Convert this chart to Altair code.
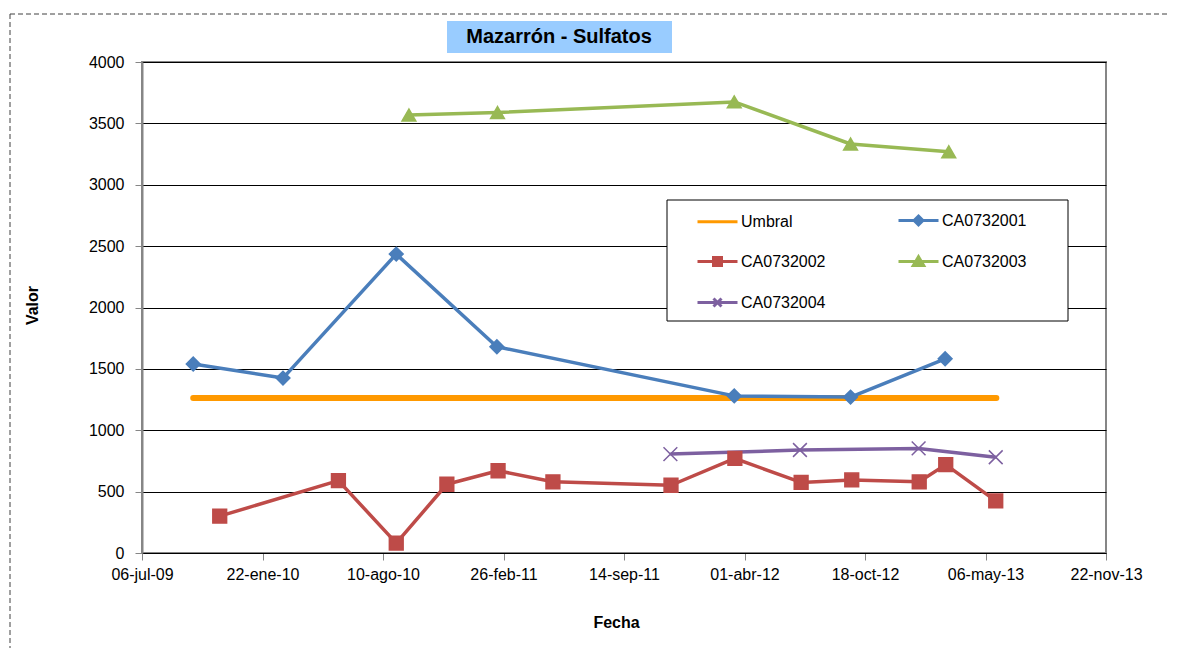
import altair as alt
import pandas as pd

# ---------------- data ----------------
chart_title = "Mazarrón - Sulfatos"
series_names = ["Umbral", "CA0732001", "CA0732002", "CA0732003", "CA0732004"]
series_colors = ["#FF9900", "#4A7EBB", "#BE4B48", "#98B954", "#7D60A0"]

umbral_dates = ["2009-09-29", "2013-05-24"]
umbral_values = [1262, 1262]

ca01_dates = ["2009-09-29", "2010-02-25", "2010-09-01", "2011-02-15",
              "2012-03-15", "2012-09-24", "2013-02-28"]
ca01_values = [1540, 1425, 2435, 1680, 1280, 1270, 1582]

ca02_dates = ["2009-11-12", "2010-05-28", "2010-09-01", "2010-11-24",
              "2011-02-17", "2011-05-19", "2011-12-01", "2012-03-16",
              "2012-07-04", "2012-09-26", "2013-01-16", "2013-03-01",
              "2013-05-23"]
ca02_values = [300, 590, 80, 560, 670, 580, 552, 770, 575, 595, 580, 720, 425]

ca03_dates = ["2010-09-22", "2011-02-16", "2012-03-15", "2012-09-24", "2013-03-06"]
ca03_values = [3568, 3588, 3675, 3332, 3269]

ca04_dates = ["2011-11-30", "2012-07-02", "2013-01-15", "2013-05-23"]
ca04_values = [806, 839, 852, 780]

x_tick_dates = [(2009, 7, 6), (2010, 1, 22), (2010, 8, 10), (2011, 2, 26),
                (2011, 9, 14), (2012, 4, 1), (2012, 10, 18), (2013, 5, 6),
                (2013, 11, 22)]
month_abbr = ["ene", "feb", "mar", "abr", "may", "jun",
              "jul", "ago", "sep", "oct", "nov", "dic"]
y_ticks = [0, 500, 1000, 1500, 2000, 2500, 3000, 3500, 4000]

# ---------------- tables ----------------
rows = []
for name, dates, vals in [("Umbral", umbral_dates, umbral_values),
                          ("CA0732001", ca01_dates, ca01_values),
                          ("CA0732002", ca02_dates, ca02_values),
                          ("CA0732003", ca03_dates, ca03_values),
                          ("CA0732004", ca04_dates, ca04_values)]:
    for d, v in zip(dates, vals):
        rows.append({"serie": name, "fecha": d, "valor": v})
df = pd.DataFrame(rows)

legend_df = pd.DataFrame({"serie": series_names,
                          "fecha": [None] * len(series_names),
                          "valor": [None] * len(series_names)})
one_row = pd.DataFrame({"k": [0]})

FONT = "Liberation Sans"
x_path = "M-1,-1L1,1M-1,1L1,-1"
point_shapes = ["circle", "diamond", "square", "triangle-up", x_path]
legend_shapes = [
    "M-1,0H1",
    "M-1,0H1M0,-0.22L0.22,0L0,0.22L-0.22,0Z",
    "M-1,0H1M-0.2,-0.2H0.2V0.2H-0.2Z",
    "M-1,0H1M0,-0.24L0.26,0.2H-0.26Z",
    "M-1,0H1M-0.2,-0.2L0.2,0.2M-0.2,0.2L0.2,-0.2",
]

def dt(t):
    return alt.DateTime(year=t[0], month=t[1], date=t[2], utc=True)

months_js = "[" + ",".join("'%s'" % m for m in month_abbr) + "]"
label_expr = ("utcFormat(datum.value,'%d') + '-' + " + months_js +
              "[utcmonth(datum.value)] + '-' + utcFormat(datum.value,'%y')")

x_enc = alt.X(
    "fecha:T",
    scale=alt.Scale(type="utc", domain=[dt(x_tick_dates[0]), dt(x_tick_dates[-1])]),
    axis=alt.Axis(
        values=[dt(t) for t in x_tick_dates], labelExpr=label_expr,
        grid=False, domainColor="black", domainWidth=1,
        tickColor="#868686", tickSize=7, tickWidth=1,
        labelFont=FONT, labelFontSize=16, labelColor="black", labelPadding=6,
        labelFlush=False, labelOverlap=False,
        title="Fecha", titleFont=FONT, titleFontSize=16, titleFontWeight="bold",
        titleColor="black", titleX=474, titleY=69, titleAlign="center",
        titleBaseline="middle", titleAngle=0,
    ),
)
y_enc = alt.Y(
    "valor:Q",
    scale=alt.Scale(domain=[0, 4000], nice=False),
    axis=alt.Axis(
        values=y_ticks, format="d", grid=True, gridColor="black", gridWidth=1,
        domainColor="#868686", domainWidth=2,
        tickColor="#868686", tickSize=7, tickWidth=1,
        labelFont=FONT, labelFontSize=16, labelColor="black", labelPadding=11,
        title="Valor", titleFont=FONT, titleFontSize=16, titleFontWeight="bold",
        titleColor="black", titleX=-110, titleY=243, titleAngle=-90,
        titleAlign="center", titleBaseline="middle",
    ),
)

color_scale = alt.Scale(domain=series_names, range=series_colors)

base = alt.Chart(df).encode(x=x_enc, y=y_enc)

umbral = base.transform_filter(alt.datum.serie == "Umbral").mark_line(
    strokeWidth=6, strokeCap="round"
).encode(color=alt.Color("serie:N", scale=color_scale, legend=None))

lines = base.transform_filter(alt.datum.serie != "Umbral").mark_line(
    strokeWidth=3.5, strokeJoin="round"
).encode(color=alt.Color("serie:N", scale=color_scale, legend=None),
         detail="serie:N")

points = base.transform_filter(alt.datum.serie != "Umbral").mark_point(
    filled=True, size=190, strokeWidth=1.5, opacity=1
).encode(
    color=alt.Color("serie:N", scale=color_scale, legend=None),
    stroke=alt.Stroke("serie:N", scale=color_scale, legend=None),
    shape=alt.Shape("serie:N", scale=alt.Scale(domain=series_names, range=point_shapes),
                    legend=None),
)

legend_frame = alt.Chart(one_row).mark_rect(
    fill="white", stroke="black", strokeWidth=1
).encode(x=alt.value(525), x2=alt.value(926), y=alt.value(138), y2=alt.value(259))

legend_layer = alt.Chart(legend_df).mark_point(filled=True, opacity=1).encode(
    x=alt.X("fecha:T"), y=alt.Y("valor:Q"),
    fill=alt.Fill("serie:N", scale=color_scale,
                  legend=alt.Legend(
                      title=None, orient="none", legendX=525, legendY=125,
                      columns=2, direction="horizontal",
                      symbolSize=1600, symbolStrokeWidth=3,
                      symbolOffset=17, labelOffset=2, columnPadding=54,
                      rowPadding=9, padding=12, labelFont=FONT,
                      labelFontSize=16, labelColor="black", labelLimit=300,
                      symbolOpacity=1,
                  )),
    stroke=alt.Stroke("serie:N", scale=color_scale),
    shape=alt.Shape("serie:N", scale=alt.Scale(domain=series_names, range=legend_shapes)),
)

title_box = alt.Chart(one_row).mark_rect(fill="#99CCFF").encode(
    x=alt.value(305), x2=alt.value(530), y=alt.value(-41), y2=alt.value(-9))
title_text = alt.Chart(one_row).mark_text(
    font=FONT, fontSize=20, fontWeight="bold", color="black",
    align="center", baseline="middle"
).encode(x=alt.value(417), y=alt.value(-25), text=alt.value(chart_title))

frame_top = alt.Chart(one_row).mark_rule(
    color="#404040", strokeWidth=1, strokeDash=[5, 3]
).encode(x=alt.value(-132), x2=alt.value(1030), y=alt.value(-48))
frame_left = alt.Chart(one_row).mark_rule(
    color="#404040", strokeWidth=1, strokeDash=[5, 3]
).encode(x=alt.value(-132), y=alt.value(-48), y2=alt.value(590))

chart = alt.layer(
    frame_top, frame_left, title_box, title_text,
    umbral, lines, points, legend_frame, legend_layer
).resolve_scale(
    color="independent", stroke="independent", shape="independent", fill="independent"
).properties(
    width=964, height=491,
    padding={"left": 134, "top": 54, "right": 62, "bottom": 95},
    autosize=alt.AutoSizeParams(type="none"),
    background="white",
).configure_view(stroke="#868686", strokeWidth=2)

chart.save("out.html", embed_options={"renderer": "svg", "actions": False})
